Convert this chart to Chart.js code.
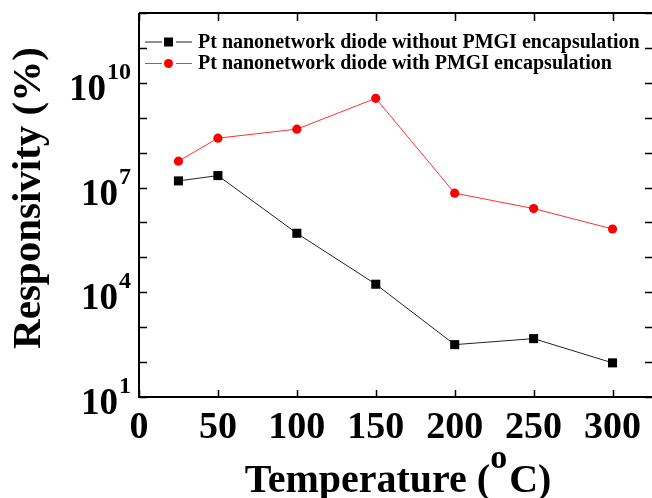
<!DOCTYPE html>
<html lang="en">
<head>
<meta charset="UTF-8">
<title>Responsivity vs Temperature</title>
<script src="https://cdn.jsdelivr.net/npm/chart.js"></script>
<style>
  html, body { margin: 0; padding: 0; background: #fff; }
  #wrap { width: 652px; height: 498px; }
</style>
</head>
<body>
<div id="wrap"><canvas id="chart" width="652" height="498"></canvas></div>
<script>
  // values
  const temperatures = [25, 50, 100, 150, 200, 250, 300];
  const withoutPMGI = [1.55e7, 2.2e7, 4.9e5, 1.7e4, 316, 470, 95];
  const withPMGI = [5.7e7, 2.6e8, 4.7e8, 3.6e9, 6.9e6, 2.5e6, 6.5e5];
  const xTicks = [0, 50, 100, 150, 200, 250, 300];
  const yLabelExp = [1, 4, 7, 10];
  const seriesNames = [
    'Pt nanonetwork diode without PMGI encapsulation',
    'Pt nanonetwork diode with PMGI encapsulation'
  ];

  const SERIF = '"Liberation Serif", "Times New Roman", serif';

  function pts(vals) {
    return temperatures.map((t, i) => ({ x: t, y: vals[i] }));
  }

  // axes frame, inward ticks, superscript labels, titles and legend
  const frame = {
    id: 'frame',
    afterDatasetsDraw(chart) {
      const ctx = chart.ctx;
      const a = chart.chartArea;
      const x = chart.scales.x, y = chart.scales.y;
      ctx.save();
      ctx.strokeStyle = '#000';
      ctx.fillStyle = '#000';

      ctx.lineWidth = 2;
      ctx.beginPath();
      ctx.moveTo(a.left, a.top); ctx.lineTo(a.left, a.bottom); ctx.lineTo(a.right, a.bottom);
      ctx.moveTo(a.left, a.top); ctx.lineTo(a.right, a.top);
      ctx.stroke();

      ctx.lineWidth = 1.5;
      ctx.beginPath();
      xTicks.forEach(v => {
        const px = Math.round(x.getPixelForValue(v)) + 0.5;
        ctx.moveTo(px, a.bottom); ctx.lineTo(px, a.bottom - 7);
        ctx.moveTo(px, a.top); ctx.lineTo(px, a.top + 8);
      });
      for (let e = 1; e <= 12; e++) {
        const py = Math.round(y.getPixelForValue(Math.pow(10, e))) + 0.5;
        ctx.moveTo(a.left, py); ctx.lineTo(a.left + 8, py);
        ctx.moveTo(a.right - 7, py); ctx.lineTo(a.right, py);
      }
      ctx.stroke();

      // x tick labels
      ctx.font = 'bold 38px ' + SERIF;
      ctx.textAlign = 'center';
      ctx.textBaseline = 'alphabetic';
      xTicks.forEach(v => ctx.fillText(String(v), x.getPixelForValue(v), 438));

      // y tick labels 10^n
      yLabelExp.forEach(e => {
        const py = y.getPixelForValue(Math.pow(10, e));
        ctx.font = 'bold 24px ' + SERIF;
        const ew = ctx.measureText(String(e)).width;
        ctx.textAlign = 'left';
        ctx.fillText(String(e), 131 - ew, py - 4);
        ctx.font = 'bold 37px ' + SERIF;
        ctx.textAlign = 'right';
        ctx.fillText('10', 131 - ew - 1, py + 17);
      });

      // x title with superscript
      ctx.textAlign = 'left';
      const t1 = 'Temperature (', t2 = 'C)';
      ctx.font = 'bold 40px ' + SERIF;
      const w1 = ctx.measureText(t1).width, w3 = ctx.measureText(t2).width;
      ctx.font = 'bold 34px ' + SERIF;
      const w2 = ctx.measureText('o').width;
      let sx = 398 - (w1 + w2 + w3 + 2) / 2;
      ctx.font = 'bold 40px ' + SERIF;
      ctx.fillText(t1, sx, 492);
      ctx.font = 'bold 34px ' + SERIF;
      ctx.fillText('o', sx + w1, 468);
      ctx.font = 'bold 40px ' + SERIF;
      ctx.fillText(t2, sx + w1 + w2 + 2, 492);

      // y title
      ctx.save();
      ctx.translate(40, 198);
      ctx.rotate(-Math.PI / 2);
      ctx.font = 'bold 41px ' + SERIF;
      ctx.textAlign = 'center';
      ctx.fillText('Responsivity (%)', 0, 0);
      ctx.restore();

      // legend
      const rows = [
        { y: 42, color: '#000', line: '#222', shape: 'rect' },
        { y: 63.5, color: '#ff0000', line: '#ff3030', shape: 'circle' }
      ];
      rows.forEach((r, i) => {
        ctx.strokeStyle = r.line;
        ctx.lineWidth = 1;
        ctx.beginPath();
        ctx.moveTo(145, r.y); ctx.lineTo(162, r.y);
        ctx.moveTo(176, r.y); ctx.lineTo(192, r.y);
        ctx.stroke();
        ctx.fillStyle = r.color;
        if (r.shape === 'rect') {
          ctx.fillRect(164, r.y - 4.5, 9, 9);
        } else {
          ctx.beginPath(); ctx.arc(168.5, r.y, 4.5, 0, Math.PI * 2); ctx.fill();
        }
        ctx.fillStyle = '#000';
        ctx.font = 'bold 20px ' + SERIF;
        ctx.textAlign = 'left';
        ctx.fillText(seriesNames[i], 198, r.y + 5.5);
      });
      ctx.restore();
    }
  };

  new Chart(document.getElementById('chart'), {
    type: 'line',
    data: {
      datasets: [{
        label: seriesNames[0],
        data: pts(withoutPMGI),
        borderColor: '#222',
        borderWidth: 1,
        backgroundColor: '#000',
        pointStyle: 'rect',
        pointRadius: 6.4,
        pointBorderWidth: 0
      }, {
        label: seriesNames[1],
        data: pts(withPMGI),
        borderColor: '#ff3030',
        borderWidth: 1,
        backgroundColor: '#ff0000',
        pointStyle: 'circle',
        pointRadius: 4.6,
        pointBorderWidth: 0
      }]
    },
    options: {
      responsive: false,
      animation: false,
      layout: { autoPadding: false, padding: { top: 13, right: 0, bottom: 0, left: 0 } },
      plugins: { legend: { display: false }, tooltip: { enabled: false } },
      scales: {
        x: {
          type: 'linear', min: 0, max: 325,
          grid: { display: false }, border: { display: false },
          ticks: { display: false },
          afterFit(s) { s.height = 101; }
        },
        y: {
          type: 'logarithmic', min: 10, max: 1e12,
          grid: { display: false }, border: { display: false },
          ticks: { display: false },
          afterFit(s) { s.width = 139; }
        }
      }
    },
    plugins: [frame]
  });
</script>
</body>
</html>
